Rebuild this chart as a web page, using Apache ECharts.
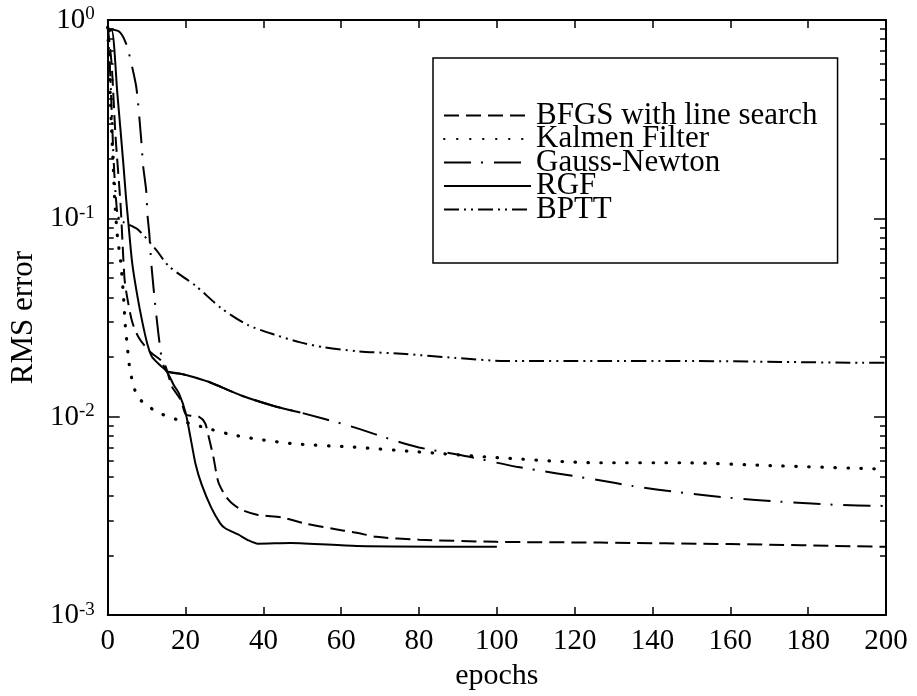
<!DOCTYPE html>
<html><head><meta charset="utf-8">
<script src="https://cdn.jsdelivr.net/npm/echarts@6/dist/echarts.min.js"></script>
<style>html,body{margin:0;padding:0;background:#fff}#main{width:917px;height:696px}</style>
</head><body><div id="main"></div>
<script>
// ---- data ----
const seriesNames = ['BFGS with line search', 'Kalmen Filter', 'Gauss-Newton', 'RGF', 'BPTT'];

const bfgsEpochs = [0, 1, 2, 3.3, 4.3, 5, 6.3, 8, 10.7, 14.5, 16.5, 18.8, 20, 21.5, 23.4, 25, 25.9, 27.2, 28.4, 30.2, 31.7, 34.3, 38.6, 45, 50.5, 58.9, 64, 69, 80, 100, 126.6, 160, 200];
const bfgsRms    = [0.92, 0.6, 0.26, 0.117, 0.05, 0.04, 0.030, 0.025, 0.0214, 0.0185, 0.0142, 0.0121, 0.0103, 0.0101, 0.0100, 0.0093, 0.0080, 0.0062, 0.0047, 0.0040, 0.0037, 0.0034, 0.0032, 0.0031, 0.0029, 0.0027, 0.0026, 0.00248, 0.0024, 0.00234, 0.00232, 0.00228, 0.00221];

const kalmanEpochs = [0, 0.5, 1, 1.5, 1.8, 2.5, 3.3, 4, 4.5, 5, 5.5, 6.3, 7.6, 9.9, 13.7, 17.8, 23.9, 31.5, 38.6, 48.7, 63.2, 79.7, 97, 126.6, 147.7, 170.6, 199];
const kalmanRms    = [0.92, 0.5, 0.28, 0.17, 0.123, 0.0806, 0.061, 0.042, 0.029, 0.023, 0.0185, 0.0152, 0.0127, 0.01145, 0.01035, 0.00967, 0.00893, 0.00815, 0.0077, 0.00728, 0.00703, 0.00665, 0.00628, 0.00586, 0.00586, 0.00567, 0.00545];

const gnEpochs = [0, 3, 4.8, 6.1, 7.4, 8.6, 9.1, 9.9, 10.2, 10.7, 11.2, 12.4, 14, 15.2, 18.3, 20.8, 25.9, 34.3, 42.9, 49.5, 62, 74.5, 80, 92.6, 105, 126, 135, 148, 160, 173, 186.5, 200];
const gnRms    = [0.9, 0.873, 0.753, 0.60, 0.45, 0.25, 0.184, 0.137, 0.105, 0.083, 0.059, 0.0337, 0.019, 0.0169, 0.0165, 0.0161, 0.0150, 0.0128, 0.0113, 0.0105, 0.0090, 0.0075, 0.0070, 0.0063, 0.0056, 0.0048, 0.00447, 0.00413, 0.0039, 0.00373, 0.0036, 0.00355];
const gnSolidRange = [15.2, 49.5];   // stretch of the Gauss-Newton curve printed solid

const rgfEpochs = [0, 1, 2.5, 4, 4.7, 5.3, 6.3, 7.6, 8.9, 10.2, 11.4, 13.7, 15.2, 17, 18.3, 20, 21.3, 22.6, 24.1, 26.6, 28.9, 30.2, 33.5, 36, 38.6, 47, 64, 100];
const rgfRms    = [0.87, 0.89, 0.42, 0.19, 0.127, 0.095, 0.0593, 0.0408, 0.030, 0.0232, 0.020, 0.018, 0.0169, 0.0144, 0.0131, 0.0105, 0.0078, 0.00574, 0.00457, 0.00348, 0.0029, 0.00274, 0.00255, 0.00239, 0.00229, 0.00231, 0.00223, 0.00221];

const bpttEpochs = [0, 0.7, 1.5, 2.2, 3, 7.6, 12.4, 15.7, 22.6, 29.2, 36, 42.9, 49.5, 55.5, 64, 76.6, 89.3, 102, 126.6, 147.7, 173, 194, 200];
const bpttRms    = [0.92, 0.5, 0.2, 0.12, 0.099, 0.0883, 0.0696, 0.0574, 0.0457, 0.0352, 0.029, 0.0259, 0.0237, 0.0224, 0.0214, 0.0207, 0.0198, 0.0191, 0.0191, 0.0191, 0.0189, 0.0187, 0.0187];

const xMin = 0, xMax = 200, xStep = 20;
const yMin = 0.001, yMax = 1;
const minorMultipliers = [2, 3, 4, 5, 6, 7, 8, 9];
const decades = [0.001, 0.01, 0.1];

// ---- build ----
const zip = (xs, ys) => xs.map((x, i) => [x, ys[i]]);
const minorVals = [];
decades.forEach(d => minorMultipliers.forEach(m => minorVals.push(+(m * d).toPrecision(3))));

const FONT = "'Liberation Serif', 'DejaVu Serif', serif";
const BLACK = '#000';

const gnAll = zip(gnEpochs, gnRms);
const gnSolid = gnAll.filter(p => p[0] >= gnSolidRange[0] && p[0] <= gnSolidRange[1]);

function lineSeries(name, data, type, extra) {
  return Object.assign({
    name: name, type: 'line', data: data, symbol: 'none', smooth: 0.25,
    xAxisIndex: 0, yAxisIndex: 0, silent: true,
    lineStyle: { color: BLACK, width: 2, type: type },
    itemStyle: { color: BLACK }
  }, extra || {});
}

const axisLineStyle = { show: true, lineStyle: { color: BLACK, width: 2 } };

const option = {
  animation: false,
  backgroundColor: '#fff',
  grid: { left: 98, right: 31, top: 18, bottom: 68, containLabel: false },
  legend: {
    data: seriesNames,
    orient: 'vertical',
    left: 433, top: 58,
    padding: [42, 20, 38, 10],
    itemGap: -7.5,
    itemWidth: 87, itemHeight: 14,
    borderColor: BLACK, borderWidth: 1.5,
    backgroundColor: '#fff',
    selectedMode: false,
    itemStyle: { color: 'rgba(0,0,0,0)', borderColor: 'rgba(0,0,0,0)', borderWidth: 0, opacity: 0 },
    textStyle: { fontFamily: FONT, fontSize: 31, color: BLACK }
  },
  xAxis: [
    {
      type: 'value', min: xMin, max: xMax, interval: xStep, position: 'bottom',
      axisLine: axisLineStyle,
      axisTick: { show: true, inside: true, length: 8, lineStyle: { color: BLACK, width: 1.5 } },
      axisLabel: { fontFamily: FONT, fontSize: 29, color: BLACK, margin: 12 },
      splitLine: { show: false },
      name: 'epochs', nameLocation: 'middle', nameGap: 34,
      nameTextStyle: { fontFamily: FONT, fontSize: 30, color: BLACK }
    },
    {
      type: 'value', min: xMin, max: xMax, interval: xStep, position: 'top',
      axisLine: axisLineStyle,
      axisTick: { show: true, inside: true, length: 8, lineStyle: { color: BLACK, width: 1.5 } },
      axisLabel: { show: false }, splitLine: { show: false }
    }
  ],
  yAxis: [
    {
      type: 'log', logBase: 10, min: yMin, max: yMax, position: 'left',
      axisLine: axisLineStyle,
      axisTick: { show: true, inside: true, length: 12, lineStyle: { color: BLACK, width: 1.5 } },
      axisLabel: {
        margin: 13,
        formatter: v => '{b|10}{s|' + Math.round(Math.log10(v)) + '}',
        rich: {
          b: { fontFamily: FONT, fontSize: 29, color: BLACK, lineHeight: 30, verticalAlign: 'bottom', padding: [6, 0, 0, 0] },
          s: { fontFamily: FONT, fontSize: 19, color: BLACK, lineHeight: 14, verticalAlign: 'top' }
        }
      },
      splitLine: { show: false },
      name: 'RMS error', nameLocation: 'middle', nameGap: 60,
      nameTextStyle: { fontFamily: FONT, fontSize: 31, color: BLACK }
    },
    {
      type: 'log', logBase: 10, min: yMin, max: yMax, position: 'left',
      axisLine: { show: false },
      axisTick: { show: true, inside: true, length: 6, customValues: minorVals, lineStyle: { color: BLACK, width: 1.5 } },
      axisLabel: { show: false }, splitLine: { show: false }
    },
    {
      type: 'log', logBase: 10, min: yMin, max: yMax, position: 'right',
      axisLine: axisLineStyle,
      axisTick: { show: true, inside: true, length: 12, lineStyle: { color: BLACK, width: 1.5 } },
      axisLabel: { show: false }, splitLine: { show: false }
    },
    {
      type: 'log', logBase: 10, min: yMin, max: yMax, position: 'right',
      axisLine: { show: false },
      axisTick: { show: true, inside: true, length: 6, customValues: minorVals, lineStyle: { color: BLACK, width: 1.5 } },
      axisLabel: { show: false }, splitLine: { show: false }
    }
  ],
  series: [
    lineSeries(seriesNames[0], zip(bfgsEpochs, bfgsRms), [15, 7]),
    lineSeries(seriesNames[1], zip(kalmanEpochs, kalmanRms), [0.5, 12.5], { lineStyle: { color: BLACK, width: 3.2, type: [0.5, 12.5], cap: 'round' } }),
    lineSeries(seriesNames[2], gnAll, [27, 10, 2, 11]),
    lineSeries(seriesNames[3], zip(rgfEpochs, rgfRms), 'solid'),
    lineSeries(seriesNames[4], zip(bpttEpochs, bpttRms), [15, 5, 2, 5, 2, 5]),
    lineSeries('Gauss-Newton (solid stretch)', gnSolid, 'solid')
  ]
};

const chart = echarts.init(document.getElementById('main'), null, { renderer: 'canvas' });
chart.setOption(option);
</script>
</body></html>
